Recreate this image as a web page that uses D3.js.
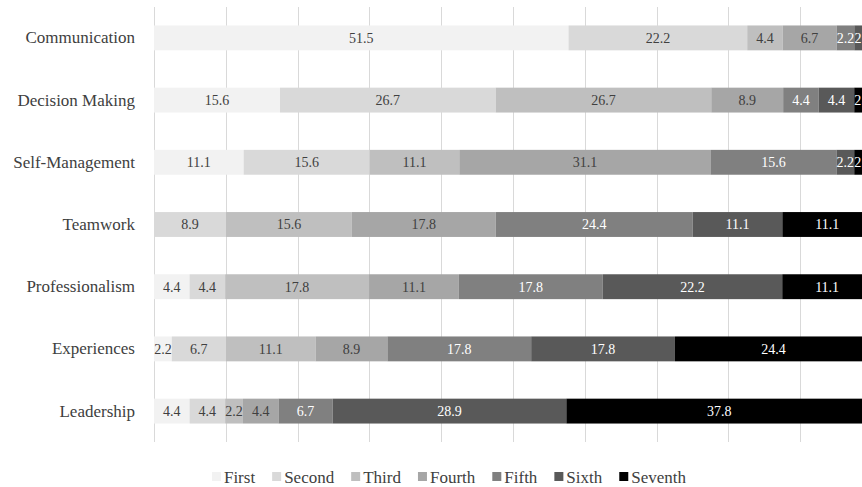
<!DOCTYPE html>
<html>
<head>
<meta charset="utf-8">
<script src="https://cdn.jsdelivr.net/npm/d3@7"></script>
<style>
  html, body { margin: 0; padding: 0; background: #fff; }
  svg { display: block; }
</style>
</head>
<body>
<svg id="chart" width="862" height="487"></svg>
<script>
const categories = ["Communication", "Decision Making", "Self-Management", "Teamwork", "Professionalism", "Experiences", "Leadership"];
const seriesNames = ["First", "Second", "Third", "Fourth", "Fifth", "Sixth", "Seventh"];
const First   = [51.5, 15.6, 11.1, 0,    4.4,  2.2,  4.4];
const Second  = [22.2, 26.7, 15.6, 8.9,  4.4,  6.7,  4.4];
const Third   = [4.4,  26.7, 11.1, 15.6, 17.8, 11.1, 2.2];
const Fourth  = [6.7,  8.9,  31.1, 17.8, 11.1, 8.9,  4.4];
const Fifth   = [2.2,  4.4,  15.6, 24.4, 17.8, 17.8, 6.7];
const Sixth   = [2.2,  4.4,  2.2,  11.1, 22.2, 17.8, 28.9];
const Seventh = [0,    2.2,  2.2,  11.1, 11.1, 24.4, 37.8];
const seriesValues = [First, Second, Third, Fourth, Fifth, Sixth, Seventh];
const colors = ["#F2F2F2", "#D9D9D9", "#BFBFBF", "#A6A6A6", "#808080", "#595959", "#000000"];
const labelColors = ["#404040", "#404040", "#404040", "#404040", "#FFFFFF", "#FFFFFF", "#FFFFFF"];
const FONT = "'Liberation Serif', 'Times New Roman', 'DejaVu Serif', serif";

const rows = categories.map((c, i) => {
  const r = { category: c };
  seriesNames.forEach((s, j) => r[s] = seriesValues[j][i]);
  return r;
});

const svg = d3.select("#chart").attr("font-family", FONT);
const left = 154, right = 872;

const x = d3.scaleLinear().domain([0, 1]).range([left, right]);
const y = d3.scaleBand().domain(categories).range([6.8, 442.2]).paddingInner(0.6).paddingOuter(0.3);

// gridlines
svg.append("g")
  .selectAll("line")
  .data(x.ticks(10))
  .join("line")
  .attr("x1", d => Math.round(x(d)) + 0.5)
  .attr("x2", d => Math.round(x(d)) + 0.5)
  .attr("y1", 7)
  .attr("y2", 442)
  .attr("stroke", "#D9D9D9")
  .attr("stroke-width", 1);

// stacked (100%) data
const stack = d3.stack().keys(seriesNames).offset(d3.stackOffsetExpand);
const stacked = stack(rows);

const g = svg.append("g");
stacked.forEach((layer, j) => {
  const lg = g.append("g");
  lg.selectAll("rect")
    .data(layer)
    .join("rect")
    .attr("x", d => x(d[0]))
    .attr("width", d => Math.max(0, x(d[1]) - x(d[0])))
    .attr("y", d => y(d.data.category))
    .attr("height", y.bandwidth())
    .attr("fill", colors[j]);
  lg.selectAll("text")
    .data(layer.filter(d => d.data[seriesNames[j]] > 0))
    .join("text")
    .attr("x", d => (x(d[0]) + x(d[1])) / 2)
    .attr("y", d => y(d.data.category) + y.bandwidth() / 2)
    .attr("dy", "0.35em")
    .attr("text-anchor", "middle")
    .attr("font-family", FONT)
    .attr("font-size", "14px")
    .attr("fill", labelColors[j])
    .text(d => d3.format(".1f")(d.data[seriesNames[j]]));
});

// category axis
const yAxis = svg.append("g")
  .attr("transform", `translate(${left},0)`)
  .call(d3.axisLeft(y).tickSize(0).tickPadding(19));
yAxis.attr("font-family", FONT);
yAxis.select(".domain").remove();
yAxis.selectAll("text")
  .attr("font-family", FONT)
  .attr("font-size", "17px")
  .attr("fill", "#404040");

// legend
const legend = svg.append("g").attr("transform", "translate(0,477)");
const items = legend.selectAll("g").data(seriesNames).join("g");
items.append("rect")
  .attr("width", 9).attr("height", 9)
  .attr("y", -5)
  .attr("fill", (d, i) => colors[i]);
items.append("text")
  .attr("x", 12)
  .attr("dy", "0.35em")
  .attr("font-family", FONT)
  .attr("font-size", "17px")
  .attr("fill", "#404040")
  .text(d => d);
let cx = 0;
const gap = 17;
const positions = [];
items.each(function () {
  const w = 12 + d3.select(this).select("text").node().getComputedTextLength();
  positions.push(cx);
  cx += w + gap;
});
const total = cx - gap;
const startX = 449 - total / 2;
items.attr("transform", (d, i) => `translate(${startX + positions[i]},0)`);
</script>
</body>
</html>
